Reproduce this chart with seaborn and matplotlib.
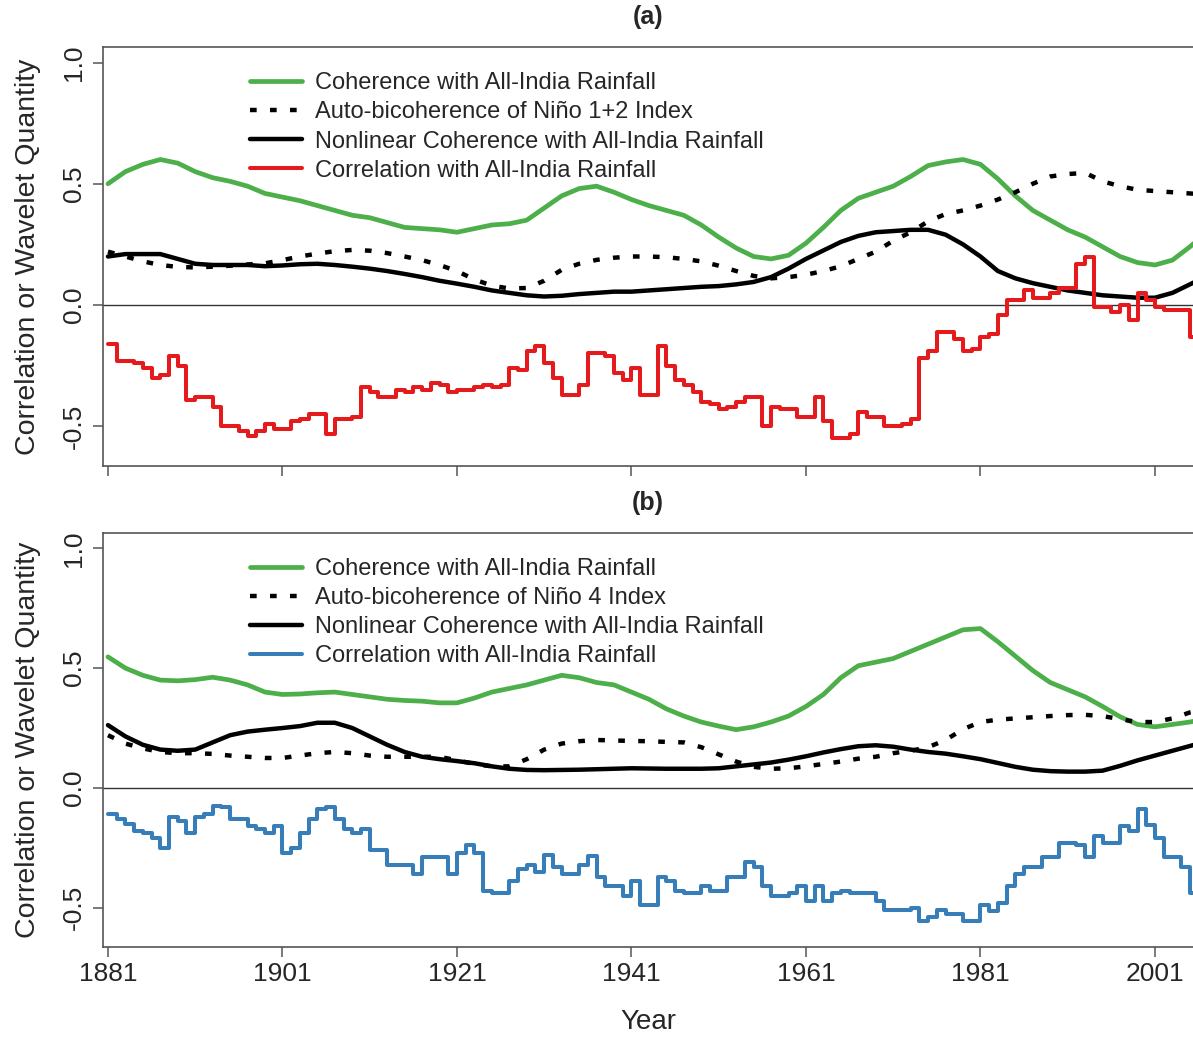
import numpy as np
import pandas as pd
import matplotlib
matplotlib.use("Agg")
import matplotlib.pyplot as plt
import seaborn as sns

# ---------------- data ----------------
step_years = list(range(1881, 2007))

corr_nino12 = [
    -0.16, -0.23, -0.23, -0.24, -0.26, -0.30, -0.29, -0.21, -0.25, -0.39,
    -0.38, -0.38, -0.42, -0.50, -0.50, -0.52, -0.54, -0.52, -0.49, -0.51,
    -0.51, -0.48, -0.47, -0.45, -0.45, -0.53, -0.47, -0.47, -0.46, -0.34,
    -0.36, -0.38, -0.38, -0.35, -0.36, -0.34, -0.35, -0.32, -0.33, -0.36,
    -0.35, -0.35, -0.34, -0.33, -0.34, -0.33, -0.26, -0.27, -0.19, -0.17,
    -0.24, -0.30, -0.37, -0.37, -0.33, -0.20, -0.20, -0.21, -0.28, -0.31,
    -0.26, -0.37, -0.37, -0.17, -0.25, -0.31, -0.33, -0.36, -0.40, -0.41,
    -0.43, -0.42, -0.40, -0.38, -0.38, -0.50, -0.42, -0.43, -0.43, -0.46,
    -0.46, -0.38, -0.48, -0.55, -0.55, -0.53, -0.44, -0.46, -0.46, -0.50,
    -0.50, -0.49, -0.47, -0.22, -0.19, -0.11, -0.11, -0.14, -0.19, -0.18,
    -0.13, -0.12, -0.04, 0.02, 0.02, 0.06, 0.03, 0.03, 0.05, 0.07,
    0.07, 0.17, 0.20, -0.01, -0.01, -0.03, 0.00, -0.06, 0.05, 0.02,
    -0.01, -0.02, -0.02, -0.02, -0.13, -0.13,
]

corr_nino4 = [
    -0.11, -0.13, -0.15, -0.18, -0.19, -0.21, -0.25, -0.12, -0.14, -0.19,
    -0.12, -0.11, -0.075, -0.08, -0.13, -0.13, -0.16, -0.17, -0.19, -0.16,
    -0.27, -0.25, -0.19, -0.13, -0.09, -0.08, -0.13, -0.17, -0.19, -0.17,
    -0.26, -0.26, -0.32, -0.32, -0.32, -0.36, -0.29, -0.29, -0.29, -0.36,
    -0.27, -0.24, -0.27, -0.43, -0.44, -0.44, -0.39, -0.34, -0.32, -0.35,
    -0.28, -0.33, -0.36, -0.36, -0.32, -0.285, -0.37, -0.41, -0.41, -0.45,
    -0.39, -0.49, -0.49, -0.37, -0.39, -0.43, -0.44, -0.44, -0.41, -0.43,
    -0.43, -0.37, -0.37, -0.31, -0.33, -0.41, -0.45, -0.45, -0.44, -0.41,
    -0.47, -0.41, -0.47, -0.44, -0.43, -0.44, -0.44, -0.44, -0.47, -0.51,
    -0.51, -0.51, -0.50, -0.557, -0.54, -0.51, -0.525, -0.525, -0.557, -0.557,
    -0.49, -0.515, -0.48, -0.41, -0.36, -0.33, -0.33, -0.29, -0.29, -0.23,
    -0.23, -0.24, -0.29, -0.20, -0.23, -0.23, -0.16, -0.18, -0.09, -0.155,
    -0.21, -0.29, -0.29, -0.33, -0.44, -0.44,
]

smooth_years = list(range(1881, 2008, 2))

coh_a = [
    0.50, 0.55, 0.58, 0.60, 0.585, 0.55, 0.525, 0.51, 0.49, 0.46,
    0.445, 0.43, 0.41, 0.39, 0.37, 0.36, 0.34, 0.32, 0.315, 0.31,
    0.30, 0.315, 0.33, 0.335, 0.35, 0.40, 0.45, 0.48, 0.49, 0.465,
    0.435, 0.41, 0.39, 0.37, 0.33, 0.28, 0.235, 0.20, 0.19, 0.205,
    0.255, 0.32, 0.39, 0.44, 0.465, 0.49, 0.53, 0.575, 0.59, 0.60,
    0.58, 0.52, 0.45, 0.39, 0.35, 0.31, 0.28, 0.24, 0.20, 0.175,
    0.165, 0.185, 0.24, 0.30,
]
bicoh_a = [
    0.22, 0.20, 0.18, 0.165, 0.157, 0.155, 0.158, 0.162, 0.167, 0.172,
    0.185, 0.20, 0.212, 0.222, 0.227, 0.224, 0.214, 0.20, 0.185, 0.165,
    0.14, 0.105, 0.08, 0.068, 0.07, 0.10, 0.145, 0.17, 0.186, 0.195,
    0.20, 0.20, 0.197, 0.19, 0.18, 0.162, 0.14, 0.12, 0.11, 0.115,
    0.125, 0.14, 0.16, 0.19, 0.22, 0.265, 0.30, 0.345, 0.375, 0.39,
    0.41, 0.435, 0.465, 0.50, 0.53, 0.54, 0.545, 0.51, 0.49, 0.475,
    0.47, 0.465, 0.46, 0.455,
]
nlcoh_a = [
    0.20, 0.21, 0.21, 0.21, 0.19, 0.17, 0.165, 0.165, 0.165, 0.16,
    0.163, 0.168, 0.17, 0.165, 0.158, 0.15, 0.14, 0.128, 0.115, 0.10,
    0.088, 0.075, 0.06, 0.05, 0.04, 0.035, 0.038, 0.045, 0.05, 0.055,
    0.055, 0.06, 0.065, 0.07, 0.075, 0.078, 0.085, 0.095, 0.115, 0.15,
    0.19, 0.225, 0.26, 0.285, 0.30, 0.305, 0.31, 0.31, 0.29, 0.25,
    0.20, 0.14, 0.11, 0.09, 0.075, 0.06, 0.05, 0.04, 0.035, 0.03,
    0.03, 0.05, 0.085, 0.12,
]

coh_b = [
    0.547, 0.50, 0.47, 0.45, 0.447, 0.452, 0.462, 0.45, 0.43, 0.40,
    0.39, 0.392, 0.397, 0.40, 0.39, 0.38, 0.37, 0.365, 0.362, 0.355,
    0.355, 0.375, 0.40, 0.415, 0.43, 0.45, 0.47, 0.46, 0.44, 0.43,
    0.40, 0.37, 0.33, 0.30, 0.275, 0.258, 0.243, 0.255, 0.275, 0.30,
    0.34, 0.39, 0.46, 0.51, 0.525, 0.54, 0.57, 0.60, 0.63, 0.66,
    0.665, 0.61, 0.55, 0.49, 0.44, 0.41, 0.38, 0.34, 0.297, 0.265,
    0.255, 0.265, 0.275, 0.29,
]
bicoh_b = [
    0.22, 0.185, 0.165, 0.15, 0.145, 0.145, 0.142, 0.135, 0.13, 0.125,
    0.125, 0.135, 0.145, 0.15, 0.145, 0.135, 0.13, 0.13, 0.13, 0.13,
    0.115, 0.10, 0.09, 0.09, 0.12, 0.16, 0.185, 0.195, 0.20, 0.198,
    0.196, 0.195, 0.192, 0.19, 0.17, 0.14, 0.11, 0.088, 0.08, 0.082,
    0.09, 0.10, 0.11, 0.122, 0.13, 0.145, 0.155, 0.17, 0.20, 0.245,
    0.275, 0.285, 0.29, 0.295, 0.30, 0.304, 0.305, 0.30, 0.287, 0.275,
    0.275, 0.29, 0.315, 0.33,
]
nlcoh_b = [
    0.262, 0.215, 0.18, 0.16, 0.155, 0.16, 0.19, 0.22, 0.235, 0.243,
    0.25, 0.258, 0.272, 0.272, 0.25, 0.215, 0.18, 0.15, 0.13, 0.12,
    0.112, 0.103, 0.09, 0.08, 0.075, 0.074, 0.075, 0.076, 0.078, 0.08,
    0.082, 0.081, 0.08, 0.08, 0.08, 0.082, 0.09, 0.098, 0.106, 0.118,
    0.132, 0.148, 0.162, 0.174, 0.178, 0.172, 0.16, 0.15, 0.143, 0.132,
    0.12, 0.104, 0.088, 0.076, 0.07, 0.068, 0.068, 0.072, 0.092, 0.115,
    0.135, 0.155, 0.175, 0.195,
]

year_ticks = [1881, 1901, 1921, 1941, 1961, 1981, 2001]
y_ticks = [-0.5, 0.0, 0.5, 1.0]
y_ticklabels = ["-0.5", "0.0", "0.5", "1.0"]

lab_coh = "Coherence with All-India Rainfall"
lab_bicoh_a = "Auto-bicoherence of Niño 1+2 Index"
lab_bicoh_b = "Auto-bicoherence of Niño 4 Index"
lab_nl = "Nonlinear Coherence with All-India Rainfall"
lab_corr = "Correlation with All-India Rainfall"

# ---------------- style ----------------
sns.set_style("white")
plt.rcParams["font.family"] = ["Liberation Sans", "DejaVu Sans"]

GREEN = "#4DAF4A"
RED = "#E41A1C"
BLUE = "#377EB8"
FRAME = "#555555"

W, H = 1193, 1038
fig = plt.figure(figsize=(W / 100, H / 100), dpi=100)
ax_a = fig.add_axes([103 / W, 1 - 466 / H, 1 - 103 / W, 419 / H])
ax_b = fig.add_axes([103 / W, 1 - 947 / H, 1 - 103 / W, 414 / H])


def draw_panel(ax, coh, bicoh, nlcoh, corr, corr_color, bicoh_label, title, show_xlabels):
    sns.lineplot(x=smooth_years, y=coh, ax=ax, color=GREEN, linewidth=3.4,
                 label=lab_coh)
    sns.lineplot(x=smooth_years, y=bicoh, ax=ax, color="black", linewidth=3.2,
                 linestyle=(0, (1.5, 3.0)), label=bicoh_label)
    sns.lineplot(x=smooth_years, y=nlcoh, ax=ax, color="black", linewidth=3.2,
                 label=lab_nl)
    sns.lineplot(x=step_years, y=corr, ax=ax, color=corr_color, linewidth=2.9,
                 drawstyle="steps-post", label=lab_corr)
    ax.axhline(0, color="#333333", linewidth=1.0, zorder=0.5)

    ax.set_xlim(1880.43, 2005.36)
    ax.set_ylim(-0.664, 1.064)
    ax.set_xticks(year_ticks)
    ax.set_yticks(y_ticks)
    ax.set_yticklabels(y_ticklabels, rotation=90, va="center", fontsize=19)
    if show_xlabels:
        ax.set_xticklabels([str(y) for y in year_ticks], fontsize=19)
    else:
        ax.set_xticklabels([])
    ax.tick_params(axis="both", direction="out", length=7, width=1.1,
                   color=FRAME, left=True, bottom=True)
    ax.tick_params(axis="y", pad=5)
    ax.tick_params(axis="x", pad=4)
    for side in ["left", "bottom", "top"]:
        ax.spines[side].set_visible(True)
        ax.spines[side].set_color(FRAME)
        ax.spines[side].set_linewidth(1.2)
    ax.spines["right"].set_visible(False)

    ax.set_ylabel("Correlation or Wavelet Quantity", fontsize=20.5, va="center")
    ax.yaxis.set_label_coords(-0.0688, 0.5)
    if show_xlabels:
        ax.set_xlabel("Year", fontsize=20, va="center")
        ax.xaxis.set_label_coords(0.5, -0.181)
    else:
        ax.set_xlabel("")

    ax.text(0.5, 1.0 + 30 / 419, title, transform=ax.transAxes, ha="center",
            va="center", fontsize=18, fontweight="bold")

    leg = ax.legend(loc="upper left", bbox_to_anchor=(0.135, 0.940),
                    frameon=False, fontsize=17, handlelength=2.2,
                    handletextpad=0.55, labelspacing=0.305, borderpad=0,
                    borderaxespad=0)
    return leg


draw_panel(ax_a, coh_a, bicoh_a, nlcoh_a, corr_nino12, RED, lab_bicoh_a, "(a)", False)
draw_panel(ax_b, coh_b, bicoh_b, nlcoh_b, corr_nino4, BLUE, lab_bicoh_b, "(b)", True)

fig.savefig("out.png", dpi=100)
